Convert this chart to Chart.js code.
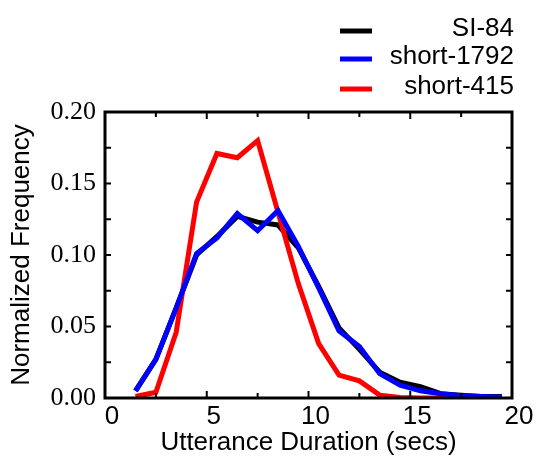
<!DOCTYPE html>
<html>
<head>
<meta charset="utf-8">
<title>Utterance Duration</title>
<script src="https://cdn.jsdelivr.net/npm/chart.js@4/dist/chart.umd.min.js"></script>
<style>
  body { margin: 0; background: #fff; }
  canvas { display: block; }
</style>
</head>
<body>
<canvas id="chart" width="541" height="458"></canvas>
<script>
'use strict';
// bin centres (secs) and normalized frequency per data set
let durations = [1.5, 2.5, 3.5, 4.5, 5.5, 6.5, 7.5, 8.5, 9.5, 10.5, 11.5, 12.5, 13.5, 14.5, 15.5, 16.5, 17.5, 18.5, 19.5];
let si84 = [0.005, 0.027, 0.063, 0.100, 0.113, 0.127, 0.123, 0.121, 0.105, 0.078, 0.049, 0.034, 0.018, 0.011, 0.008, 0.003, 0.002, 0.001, 0.001];
let short1792 = [0.005, 0.027, 0.063, 0.101, 0.112, 0.129, 0.117, 0.131, 0.106, 0.077, 0.047, 0.036, 0.017, 0.009, 0.005, 0.003, 0.0015, 0.001, 0.0005];
let short415 = [0.001, 0.004, 0.046, 0.137, 0.171, 0.168, 0.180, 0.130, 0.080, 0.038, 0.016, 0.012, 0.002, 0.0003, 0, 0, 0, 0, 0];
let seriesNames = ['SI-84', 'short-1792', 'short-415'];
let seriesColors = ['#000000', '#0000ff', '#ff0000'];
let xTicks = [0, 5, 10, 15, 20];
let yTicks = [0, 0.05, 0.10, 0.15, 0.20];

function toPoints(values) {
  let pts = [];
  for (let i = 0; i < durations.length; i++) {
    pts.push({ x: durations[i], y: values[i] });
  }
  return pts;
}

// box around the plot with inward ticks on all four sides
let framePlugin = {
  id: 'frame',
  afterDatasetsDraw(chart) {
    let ctx = chart.ctx;
    let a = chart.chartArea;
    let xs = chart.scales.x;
    let ys = chart.scales.y;
    ctx.save();
    ctx.strokeStyle = '#000';
    ctx.lineWidth = 3;
    ctx.strokeRect(a.left, a.top, a.right - a.left, a.bottom - a.top);
    ctx.lineWidth = 2;
    ctx.beginPath();
    for (let v = 0; v <= 20.001; v += 2.5) {
      let px = xs.getPixelForValue(v);
      let len = (v % 5 === 0) ? 7 : 5;
      ctx.moveTo(px, a.bottom); ctx.lineTo(px, a.bottom - len);
      ctx.moveTo(px, a.top); ctx.lineTo(px, a.top + len);
    }
    for (let k = 0; k <= 8; k++) {
      let py = ys.getPixelForValue(k * 0.025);
      ctx.moveTo(a.left, py); ctx.lineTo(a.left + 6, py);
      ctx.moveTo(a.right, py); ctx.lineTo(a.right - 6, py);
    }
    ctx.stroke();
    ctx.restore();
  }
};

// legend in the top right, text aligned to the right
let legendPlugin = {
  id: 'rightLegend',
  afterDraw(chart) {
    let ctx = chart.ctx;
    let rows = [29, 57, 87];
    ctx.save();
    ctx.font = '26px "Liberation Sans", Arial, sans-serif';
    ctx.textAlign = 'right';
    ctx.textBaseline = 'middle';
    for (let i = 0; i < seriesNames.length; i++) {
      ctx.strokeStyle = seriesColors[i];
      ctx.lineWidth = 5;
      ctx.beginPath();
      ctx.moveTo(340, rows[i] + 2);
      ctx.lineTo(372, rows[i] + 2);
      ctx.stroke();
      ctx.fillStyle = '#000';
      ctx.fillText(seriesNames[i], 514, rows[i]);
    }
    ctx.restore();
  }
};

let datasets = [];
let allValues = [si84, short1792, short415];
let drawOrder = [3, 1, 2];
for (let i = 0; i < allValues.length; i++) {
  datasets.push({
    label: seriesNames[i],
    data: toPoints(allValues[i]),
    borderColor: seriesColors[i],
    backgroundColor: seriesColors[i],
    borderWidth: 5,
    pointRadius: 0,
    tension: 0,
    order: drawOrder[i]
  });
}

new Chart(document.getElementById('chart'), {
  type: 'line',
  data: { datasets: datasets },
  options: {
    responsive: false,
    animation: false,
    layout: { padding: { top: 112, right: 29, left: 0, bottom: 0 } },
    plugins: { legend: { display: false }, tooltip: { enabled: false } },
    scales: {
      x: {
        type: 'linear',
        min: 0,
        max: 20,
        afterFit(scale) { scale.height = 60; },
        afterBuildTicks(scale) { scale.ticks = xTicks.map(v => ({ value: v })); },
        grid: { display: false, drawTicks: false },
        border: { display: false },
        ticks: {
          color: '#000',
          padding: 3,
          labelOffset: 7,
          maxRotation: 0,
          font: { family: '"Liberation Sans", Arial, sans-serif', size: 26 }
        },
        title: {
          display: true,
          text: 'Utterance Duration (secs)',
          color: '#000',
          padding: 0,
          font: { family: '"Liberation Sans", Arial, sans-serif', size: 26 }
        }
      },
      y: {
        min: 0,
        max: 0.2,
        afterFit(scale) { scale.width = 105; },
        afterBuildTicks(scale) { scale.ticks = yTicks.map(v => ({ value: v })); },
        grid: { display: false, drawTicks: false },
        border: { display: false },
        ticks: {
          color: '#000',
          padding: 9,
          callback: v => v.toFixed(2),
          font: { family: '"Liberation Serif", "Times New Roman", serif', size: 26 }
        },
        title: {
          display: true,
          text: 'Normalized Frequency',
          color: '#000',
          padding: { top: 6, bottom: 0 },
          font: { family: '"Liberation Sans", Arial, sans-serif', size: 26 }
        }
      }
    }
  },
  plugins: [framePlugin, legendPlugin]
});
</script>
</body>
</html>
